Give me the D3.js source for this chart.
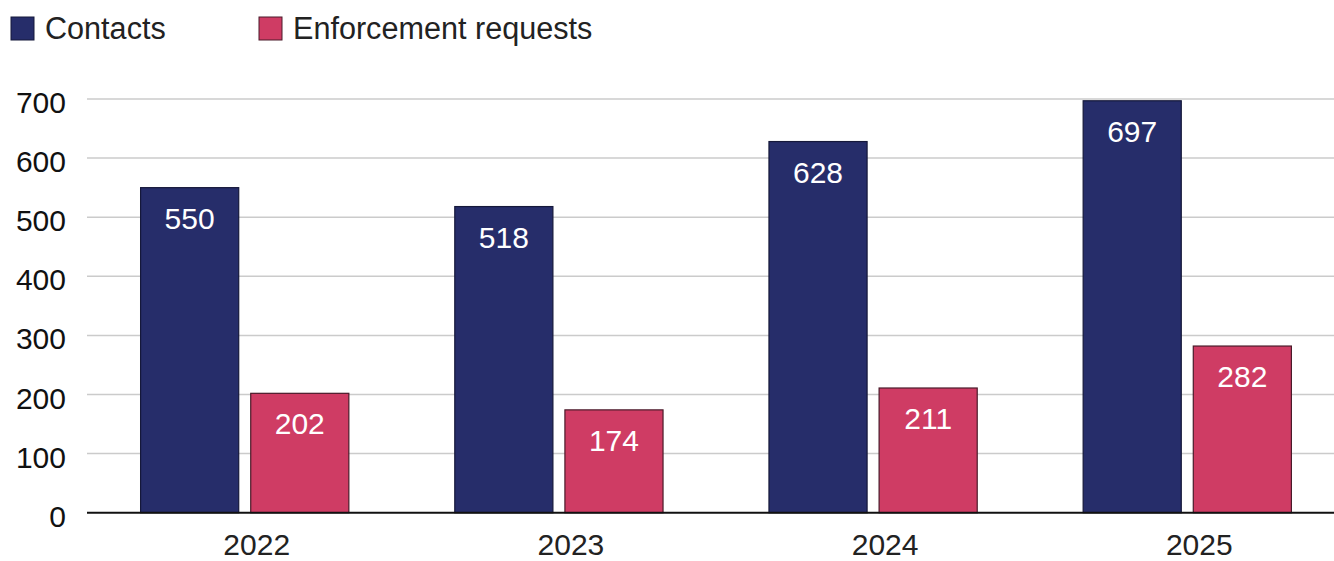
<!DOCTYPE html>
<html>
<head>
<meta charset="utf-8">
<script src="https://cdn.jsdelivr.net/npm/d3@7"></script>
<style>
  html, body { margin: 0; padding: 0; background: #fff; }
  svg { display: block; font-family: "Liberation Sans", Arial, sans-serif; }
</style>
</head>
<body>
<svg id="chart" width="1334" height="561"></svg>
<script>
// Yearly counts for the two series
const years = ["2022", "2023", "2024", "2025"];
const contacts = [550, 518, 628, 697];
const enforcementRequests = [202, 174, 211, 282];
const seriesNames = ["Contacts", "Enforcement requests"];
const seriesColors = ["#262d6a", "#cf3c64"];
const seriesStrokes = ["#15183a", "#4a1b2a"];
const yTicks = [0, 100, 200, 300, 400, 500, 600, 700];

const W = 1334, H = 561;
const plot = { left: 87, right: 1345, top: 99, bottom: 512.7 };

const svg = d3.select("#chart");

const x = d3.scaleBand()
  .domain(years)
  .range([plot.left, plot.right])
  .paddingInner(0.334)
  .paddingOuter(0.169);

const xSeries = d3.scaleBand()
  .domain(seriesNames)
  .range([0, x.bandwidth()])
  .paddingInner(0.1);

const y = d3.scaleLinear().domain([0, 700]).range([plot.bottom, plot.top]);

// Horizontal grid lines
svg.append("g")
  .selectAll("line")
  .data(yTicks.filter(d => d > 0))
  .join("line")
  .attr("x1", plot.left)
  .attr("x2", W)
  .attr("y1", d => y(d))
  .attr("y2", d => y(d))
  .attr("stroke", "#cbcbcb")
  .attr("stroke-width", 1.5);

// Y axis labels
const yAxis = d3.axisLeft(y).tickValues(yTicks).tickSize(0).tickPadding(0);
const yG = svg.append("g")
  .attr("transform", `translate(66,0)`)
  .call(yAxis);
yG.select(".domain").remove();
yG.selectAll("text")
  .attr("font-size", 30)
  .attr("font-family", "Liberation Sans, Arial, sans-serif")
  .attr("fill", "#111")
  .attr("dy", "0.45em");

// Bars
const rows = years.map((yr, i) => ({
  year: yr,
  values: [contacts[i], enforcementRequests[i]]
}));

const groups = svg.append("g")
  .selectAll("g")
  .data(rows)
  .join("g")
  .attr("transform", d => `translate(${x(d.year)},0)`);

const cells = groups.selectAll("g")
  .data(d => d.values.map((v, k) => ({ v, k })))
  .join("g");

cells.append("rect")
  .attr("x", d => xSeries(seriesNames[d.k]) + 0.5)
  .attr("width", xSeries.bandwidth() - 1)
  .attr("y", d => y(d.v))
  .attr("height", d => y(0) - y(d.v))
  .attr("fill", d => seriesColors[d.k])
  .attr("stroke", d => seriesStrokes[d.k])
  .attr("stroke-width", 1.2);

cells.append("text")
  .attr("x", d => xSeries(seriesNames[d.k]) + xSeries.bandwidth() / 2)
  .attr("y", d => y(d.v) + 41)
  .attr("text-anchor", "middle")
  .attr("font-size", 30)
  .attr("fill", "#fff")
  .text(d => d.v);

// Baseline
svg.append("line")
  .attr("x1", plot.left)
  .attr("x2", W)
  .attr("y1", y(0))
  .attr("y2", y(0))
  .attr("stroke", "#111")
  .attr("stroke-width", 2);

// X axis labels
svg.append("g")
  .selectAll("text")
  .data(years)
  .join("text")
  .attr("x", d => x(d) + x.bandwidth() / 2 + 12)
  .attr("y", 555)
  .attr("text-anchor", "middle")
  .attr("font-size", 30)
  .attr("fill", "#222")
  .text(d => d);

// Legend
const legendX = [11, 259];
const legend = svg.append("g")
  .selectAll("g")
  .data(seriesNames)
  .join("g")
  .attr("transform", (d, i) => `translate(${legendX[i]},17)`);

legend.append("rect")
  .attr("width", 23)
  .attr("height", 23)
  .attr("fill", (d, i) => seriesColors[i])
  .attr("stroke", (d, i) => seriesStrokes[i])
  .attr("stroke-width", 1);

legend.append("text")
  .attr("x", 34)
  .attr("y", 22)
  .attr("font-size", 30.6)
  .attr("fill", "#222")
  .text(d => d);
</script>
</body>
</html>
